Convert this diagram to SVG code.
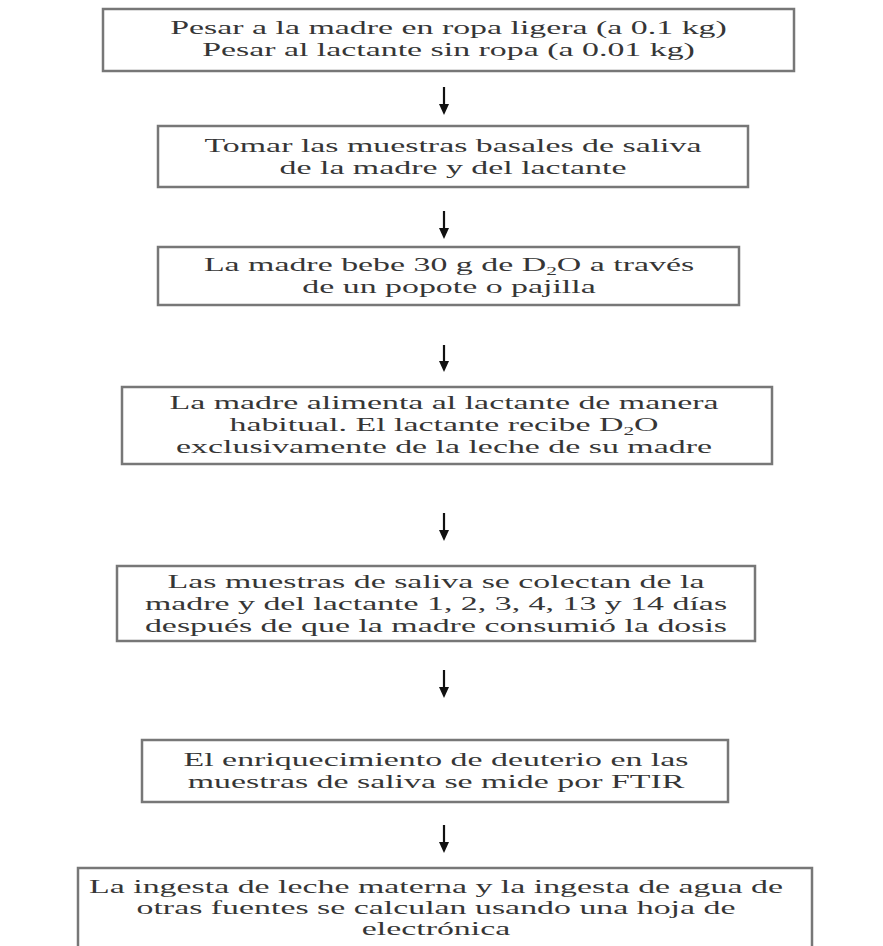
<svg xmlns="http://www.w3.org/2000/svg" width="883" height="946" viewBox="0 0 883 946">
<style>
.box{fill:#ffffff;stroke:#777777;stroke-width:2.5}
.t{font-family:"Liberation Serif","Times New Roman",serif;font-size:19px;fill:#363636;text-anchor:middle}
.sub{font-size:12px}
.arr{stroke:#111;stroke-width:2.2;fill:none}
</style>
<defs>
<marker id="ah" markerWidth="11" markerHeight="11" refX="5" refY="5.5" orient="auto" markerUnits="userSpaceOnUse" viewBox="0 0 11 11">
<path d="M0,0.5 L11,5.5 L0,10.5 Z" fill="#111"/>
</marker>
</defs>
<rect width="883" height="946" fill="#ffffff"/>
<g id="connectors">
<line class="arr" x1="444" y1="87" x2="444" y2="109" marker-end="url(#ah)"/>
<line class="arr" x1="444" y1="211" x2="444" y2="233" marker-end="url(#ah)"/>
<line class="arr" x1="444" y1="345" x2="444" y2="366" marker-end="url(#ah)"/>
<line class="arr" x1="444" y1="513" x2="444" y2="535" marker-end="url(#ah)"/>
<line class="arr" x1="444" y1="670" x2="444" y2="692" marker-end="url(#ah)"/>
<line class="arr" x1="444" y1="825" x2="444" y2="847" marker-end="url(#ah)"/>
</g>
<g id="n1">
<rect class="box" x="103" y="9" width="691" height="62"/>
<text class="t" transform="translate(448.5,34) scale(1.783,1)">Pesar a la madre en ropa ligera (a 0.1 kg)</text>
<text class="t" transform="translate(448.5,56) scale(1.783,1)">Pesar al lactante sin ropa (a 0.01 kg)</text>
</g>
<g id="n2">
<rect class="box" x="158" y="126" width="590" height="61"/>
<text class="t" transform="translate(453,152) scale(1.783,1)">Tomar las muestras basales de saliva</text>
<text class="t" transform="translate(453,174) scale(1.783,1)">de la madre y del lactante</text>
</g>
<g id="n3">
<rect class="box" x="158" y="247" width="581" height="58"/>
<text class="t" transform="translate(449,271) scale(1.783,1)">La madre bebe 30 g de D<tspan class="sub" dy="4">2</tspan><tspan dy="-4">O a través</tspan></text>
<text class="t" transform="translate(449,293) scale(1.783,1)">de un popote o pajilla</text>
</g>
<g id="n4">
<rect class="box" x="122" y="387" width="650" height="77"/>
<text class="t" transform="translate(444,409) scale(1.783,1)">La madre alimenta al lactante de manera</text>
<text class="t" transform="translate(444,431) scale(1.783,1)">habitual. El lactante recibe D<tspan class="sub" dy="4">2</tspan><tspan dy="-4">O</tspan></text>
<text class="t" transform="translate(444,453) scale(1.783,1)">exclusivamente de la leche de su madre</text>
</g>
<g id="n5">
<rect class="box" x="117" y="566" width="638" height="75"/>
<text class="t" transform="translate(436,588) scale(1.783,1)">Las muestras de saliva se colectan de la</text>
<text class="t" transform="translate(436,610) scale(1.783,1)">madre y del lactante 1, 2, 3, 4, 13 y 14 días</text>
<text class="t" transform="translate(436,632) scale(1.783,1)">después de que la madre consumió la dosis</text>
</g>
<g id="n6">
<rect class="box" x="142" y="740" width="586" height="62"/>
<text class="t" transform="translate(436,766) scale(1.783,1)">El enriquecimiento de deuterio en las</text>
<text class="t" transform="translate(436,788) scale(1.783,1)">muestras de saliva se mide por FTIR</text>
</g>
<g id="n7">
<rect class="box" x="78" y="868" width="734" height="100"/>
<text class="t" transform="translate(436,893) scale(1.783,1)">La ingesta de leche materna y la ingesta de agua de</text>
<text class="t" transform="translate(436,914) scale(1.783,1)">otras fuentes se calculan usando una hoja de</text>
<text class="t" transform="translate(436,935) scale(1.783,1)">electrónica</text>
</g>
</svg>
